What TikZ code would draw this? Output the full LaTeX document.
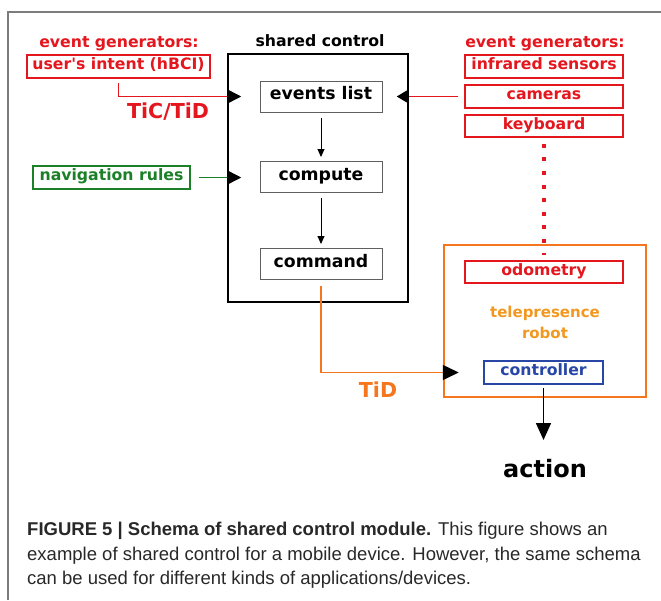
\documentclass[tikz,border=0pt]{standalone}
\usepackage{fontspec}
\setmainfont{DejaVu Sans}
\newfontfamily\capfont{Liberation Sans}
\usetikzlibrary{arrows.meta,calc}
\definecolor{myred}{RGB}{228,22,30}
\definecolor{myorange}{RGB}{245,118,28}
\definecolor{lorange}{RGB}{242,152,32}
\definecolor{mygreen}{RGB}{28,128,40}
\definecolor{myblue}{RGB}{40,70,165}
\definecolor{framegray}{RGB}{125,125,125}
\definecolor{boxgray}{RGB}{95,95,95}
\definecolor{captext}{RGB}{40,40,40}
\newcommand\lblfont{\fontsize{15.7}{18}\selectfont\bfseries}
\newcommand\boxfont{\fontsize{17.3}{20}\selectfont\bfseries}
\newcommand\largefnt{\fontsize{20.6}{24}\selectfont\bfseries}
\newcommand\actfont{\fontsize{24}{28}\selectfont\bfseries}
\newcommand\capsize{\capfont\fontsize{18.5}{24}\selectfont}
\tikzset{
  lab/.style={font=\lblfont, inner sep=0pt, anchor=base},
  gbox/.style={draw=boxgray, line width=1pt, font=\boxfont, inner sep=0pt,
    minimum width=122pt, minimum height=31pt, text height=0.84em, text depth=0.16em},
  cbox/.style={draw=#1, text=#1, line width=1.5pt, font=\lblfont, inner sep=0pt,
    minimum height=23pt, text height=0.8em, text depth=0.2em},
  bigtip/.style={-{Triangle[length=#1, width=14pt, color=black]}},
  capline/.style={anchor=base west, inner sep=0pt, font=\capsize, text=captext}
}
\begin{document}
\begin{tikzpicture}[x=1pt,y=-1pt]
\useasboundingbox (0,0) rectangle (661,600);
% frame
\draw[framegray, line width=2pt] (8,600) -- (8,12) -- (661,12);

% left generators
\node[lab, text=myred] (egl) at (119,47) {event generators:};
\node[cbox=myred, minimum width=183pt] (hbci) at (118.5,66.5) {user\textquotesingle s intent (hBCI)};
\node[cbox=mygreen, minimum width=157pt] (nav) at (111.5,177.5) {navigation rules};

% shared control
\node[lab] (sctitle) at (320,46) {shared control};
\node[draw, line width=1.5pt, minimum width=180pt, minimum height=248pt, inner sep=0pt] (sc) at (318,178) {};
\node[gbox] (ev) at (321,96.5) {events list};
\node[gbox] (comp) at (321,177) {compute};
\node[gbox] (cmd) at (321,264) {command};

% right generators
\node[lab, text=myred] (egr) at (545,47) {event generators:};
\node[cbox=myred, minimum width=158pt] (ir) at (544,66.5) {infrared sensors};
\node[cbox=myred, minimum width=158pt] (cam) at (544,96.5) {cameras};
\node[cbox=myred, minimum width=158pt, minimum height=22pt] (kb) at (544,126) {keyboard};

% robot
\node[draw=myorange, line width=2.5pt, minimum width=202pt, minimum height=152pt, inner sep=0pt] (robot) at (545,321) {};
\node[cbox=myred, minimum width=158pt, minimum height=22pt] (odo) at (544,272) {odometry};
\node[lab, text=lorange, font=\fontsize{15}{18}\selectfont\bfseries] (tele1) at (545,317) {telepresence};
\node[lab, text=lorange, font=\fontsize{15}{18}\selectfont\bfseries] (tele2) at (545,338) {robot};
\node[cbox=myblue, minimum width=119pt] (ctrl) at (543.5,372.5) {controller};

% labels
\node[lab, text=myred, font=\largefnt] (tictid) at (168,118) {TiC/TiD};
\node[lab, text=myorange, font=\largefnt] (tid) at (378,397) {TiD};
\node[lab, font=\actfont] (action) at (545,477) {action};
\coordinate (atip) at (543.5,440);

% connectors
\draw[myred, line width=1.5pt, bigtip=14pt, shorten <=4pt, shorten >=-14pt]
  (hbci.south) |- (ev -| sc.west);
\draw[mygreen, line width=1.5pt, bigtip=14pt, shorten <=8pt, shorten >=-14pt]
  (nav.east) -- (nav.east -| sc.west);
\draw[myred, line width=1.5pt, bigtip=12pt, shorten <=6pt, shorten >=-12pt]
  (cam.west) -- (cam.west -| sc.east);
\draw[black, line width=0.9pt, -{Triangle[length=8pt, width=7pt]}, shorten <=5pt, shorten >=4pt]
  (ev) -- (comp);
\draw[black, line width=0.9pt, -{Triangle[length=8pt, width=7pt]}, shorten <=5pt, shorten >=4pt]
  (comp) -- (cmd);
\draw[myorange, line width=1.5pt, -{Triangle[length=16pt, width=15pt, color=black]}, shorten <=6pt, shorten >=-16pt]
  (cmd.south) |- (ctrl.west -| robot.west);
\draw[myred, line width=4pt, dash pattern=on 4pt off 9.6pt, shorten <=6pt, shorten >=5pt]
  (kb.south) -- (odo.north);
\draw[black, line width=1.6pt, -{Triangle[length=17pt, width=15pt]}, shorten <=3pt]
  (ctrl.south) -- (atip);

% caption
\node[capline] (cap1) at (27,535) {\bfseries FIGURE 5 | Schema of shared control module.\mdseries{} This figure shows an};
\node[capline] (cap2) at (27,560) {example of shared control for a mobile device. However, the same schema};
\node[capline] (cap3) at (27,584) {can be used for different kinds of applications/devices.};
\end{tikzpicture}
\end{document}
